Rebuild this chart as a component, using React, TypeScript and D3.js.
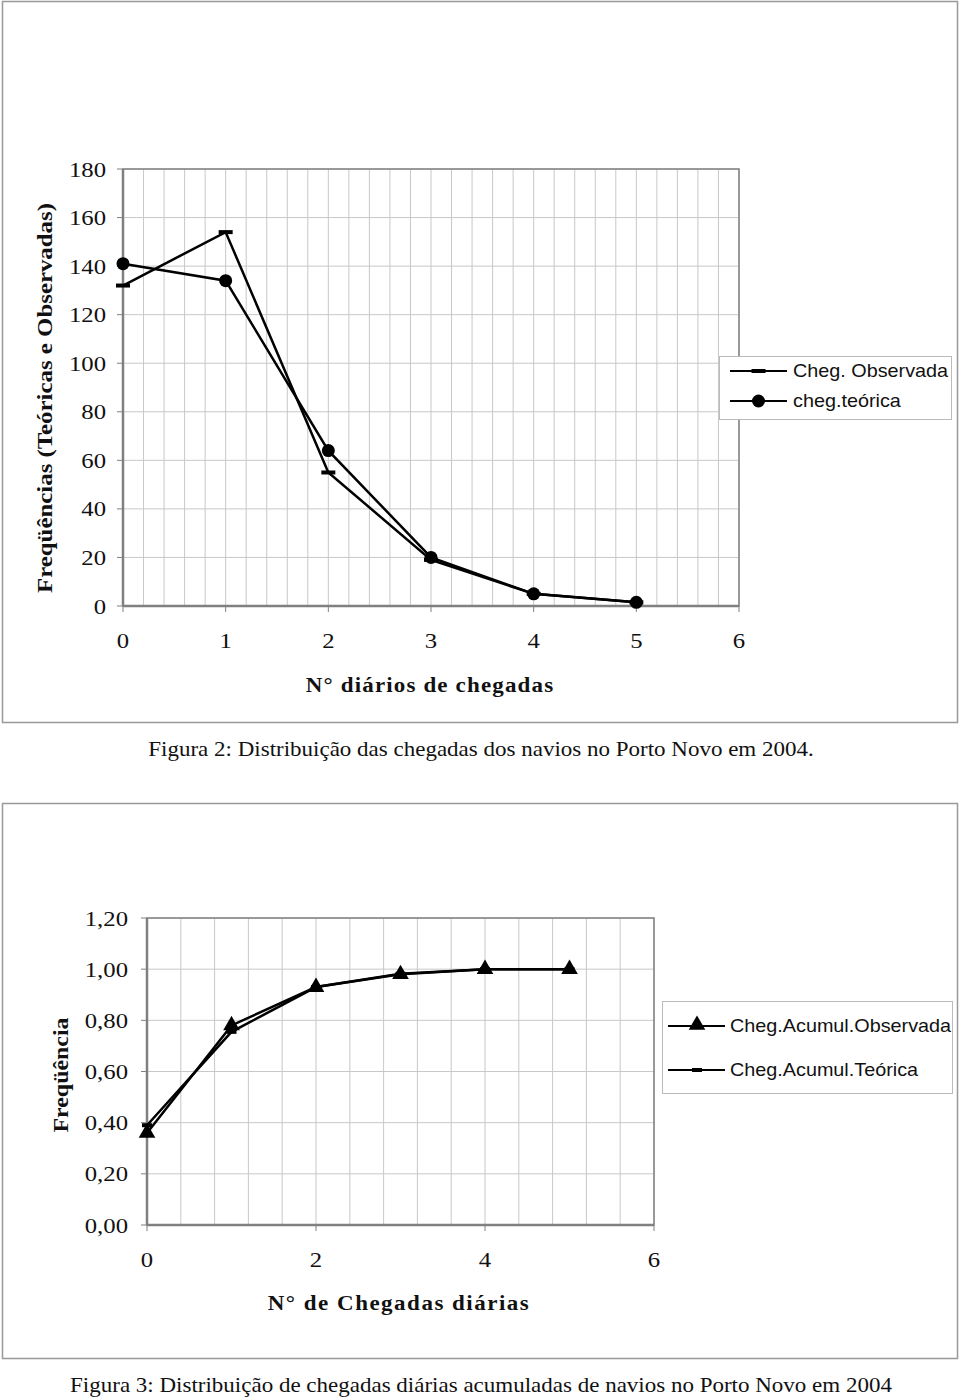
import React from "react";
import * as d3 from "d3";

// ---- Figure 2 data ----
const arrivals = [0, 1, 2, 3, 4, 5];
const observed = [132, 154, 55, 19, 5, 1.5];
const theoretical = [141, 134, 64, 20, 5, 1.5];
const fig2YTicks = [0, 20, 40, 60, 80, 100, 120, 140, 160, 180];
const fig2XTicks = [0, 1, 2, 3, 4, 5, 6];

// ---- Figure 3 data ----
const cumObserved = [0.36, 0.78, 0.93, 0.98, 1.0, 1.0];
const cumTheoretical = [0.39, 0.755, 0.93, 0.982, 1.0, 1.0];
const fig3YTicks = [0, 0.2, 0.4, 0.6, 0.8, 1.0, 1.2];
const fig3XTicks = [0, 2, 4, 6];

const SERIF = "'Liberation Serif', 'Times New Roman', serif";
const SANS = "'Liberation Sans', Arial, sans-serif";
const GRID = "#c8c8c8";
const AXIS = "#808080";
const SX = 1.15;

type STProps = {
  x: number;
  y: number;
  anchor?: "start" | "middle" | "end";
  size: number;
  family?: string;
  bold?: boolean;
  spacing?: number;
  sx?: number;
  dy?: string;
  children: React.ReactNode;
};

function SText({ x, y, anchor = "start", size, family = SERIF, bold, spacing, sx = SX, dy, children }: STProps) {
  return (
    <text
      transform={`translate(${x},${y}) scale(${sx},1)`}
      textAnchor={anchor}
      dy={dy}
      fontFamily={family}
      fontSize={size}
      fontWeight={bold ? "bold" : "normal"}
      letterSpacing={spacing}
      fill="#111"
    >
      {children}
    </text>
  );
}

function Figure2() {
  const x = d3.scaleLinear().domain([0, 6]).range([123, 739]);
  const y = d3.scaleLinear().domain([0, 180]).range([606, 169]);
  const vGrid = d3.range(31).map((i) => i * 0.2);
  const line = d3
    .line<number>()
    .x((_, i) => x(arrivals[i]))
    .y((d) => y(d));
  return (
    <g>
      <rect x={2.5} y={1.5} width={955} height={721} fill="#fff" stroke="#999" strokeWidth={1.5} />
      {vGrid.map((v, i) => (
        <line key={"v" + i} x1={x(v)} x2={x(v)} y1={y(0)} y2={y(180)} stroke={GRID} strokeWidth={1} />
      ))}
      {fig2YTicks.map((t) => (
        <line key={"h" + t} x1={x(0)} x2={x(6)} y1={y(t)} y2={y(t)} stroke={GRID} strokeWidth={1} />
      ))}
      <rect x={x(0)} y={y(180)} width={x(6) - x(0)} height={y(0) - y(180)} fill="none" stroke={AXIS} strokeWidth={1.5} />
      <line x1={x(0)} x2={x(0)} y1={y(0)} y2={y(180)} stroke={AXIS} strokeWidth={2.5} />
      <line x1={x(0)} x2={x(6)} y1={y(0)} y2={y(0)} stroke={AXIS} strokeWidth={2.5} />
      {fig2YTicks.map((t) => (
        <g key={"yt" + t}>
          <line x1={x(0) - 6} x2={x(0)} y1={y(t)} y2={y(t)} stroke={AXIS} strokeWidth={1} />
          <SText x={106} y={y(t)} dy="0.35em" anchor="end" size={21.5}>
            {t}
          </SText>
        </g>
      ))}
      {fig2XTicks.map((t) => (
        <g key={"xt" + t}>
          <line x1={x(t)} x2={x(t)} y1={y(0)} y2={y(0) + 6} stroke={AXIS} strokeWidth={1} />
          <SText x={x(t)} y={648} anchor="middle" size={21.5}>
            {t}
          </SText>
        </g>
      ))}
      <path d={line(observed) || ""} fill="none" stroke="#000" strokeWidth={2.5} />
      <path d={line(theoretical) || ""} fill="none" stroke="#000" strokeWidth={2.5} />
      {observed.map((v, i) => (
        <rect key={"o" + i} x={x(arrivals[i]) - 7} y={y(v) - 2} width={14} height={4} fill="#000" />
      ))}
      {theoretical.map((v, i) => (
        <circle key={"t" + i} cx={x(arrivals[i])} cy={y(v)} r={6.5} fill="#000" />
      ))}
      <SText x={430} y={692} anchor="middle" size={20} bold spacing={1}>
        N° diários de chegadas
      </SText>
      <text
        transform={`translate(52,398) rotate(-90)`}
        textAnchor="middle"
        fontFamily={SERIF}
        fontSize={22}
        fontWeight="bold"
        textLength={390}
        lengthAdjust="spacingAndGlyphs"
        fill="#111"
      >
        Freqüências (Teóricas e Observadas)
      </text>
      {/* legend */}
      <rect x={719.5} y={356.5} width={232} height={63} fill="#fff" stroke="#bbb" strokeWidth={1} />
      <line x1={730} x2={787} y1={371} y2={371} stroke="#000" strokeWidth={2} />
      <rect x={751.5} y={369} width={14} height={4} fill="#000" />
      <SText x={793} y={371} dy="0.35em" family={SANS} size={18} sx={1.1}>
        Cheg. Observada
      </SText>
      <line x1={730} x2={787} y1={401} y2={401} stroke="#000" strokeWidth={2} />
      <circle cx={758.5} cy={401} r={6.5} fill="#000" />
      <SText x={793} y={401} dy="0.35em" family={SANS} size={18} sx={1.1}>
        cheg.teórica
      </SText>
      <SText x={481} y={756} anchor="middle" size={20}>
        Figura 2: Distribuição das chegadas dos navios no Porto Novo em 2004.
      </SText>
    </g>
  );
}

function Figure3() {
  const x = d3.scaleLinear().domain([0, 6]).range([147, 654]);
  const y = d3.scaleLinear().domain([0, 1.2]).range([1225, 918]);
  const vGrid = d3.range(16).map((i) => i * 0.4);
  const fmt = (v: number) => d3.format(".2f")(v).replace(".", ",");
  const line = d3
    .line<number>()
    .x((_, i) => x(arrivals[i]))
    .y((d) => y(d));
  const tri = d3.symbol().type(d3.symbolTriangle).size(120);
  return (
    <g>
      <rect x={2.5} y={803.5} width={955} height={555} fill="#fff" stroke="#999" strokeWidth={1.5} />
      {vGrid.map((v, i) => (
        <line key={"v" + i} x1={x(v)} x2={x(v)} y1={y(0)} y2={y(1.2)} stroke={GRID} strokeWidth={1} />
      ))}
      {fig3YTicks.map((t, i) => (
        <line key={"h" + i} x1={x(0)} x2={x(6)} y1={y(t)} y2={y(t)} stroke={GRID} strokeWidth={1} />
      ))}
      <rect x={x(0)} y={y(1.2)} width={x(6) - x(0)} height={y(0) - y(1.2)} fill="none" stroke={AXIS} strokeWidth={1.5} />
      <line x1={x(0)} x2={x(0)} y1={y(0)} y2={y(1.2)} stroke={AXIS} strokeWidth={2.5} />
      <line x1={x(0)} x2={x(6)} y1={y(0)} y2={y(0)} stroke={AXIS} strokeWidth={2.5} />
      {fig3YTicks.map((t, i) => (
        <g key={"yt" + i}>
          <line x1={x(0) - 6} x2={x(0)} y1={y(t)} y2={y(t)} stroke={AXIS} strokeWidth={1} />
          <SText x={128} y={y(t)} dy="0.35em" anchor="end" size={21.5}>
            {fmt(t)}
          </SText>
        </g>
      ))}
      {fig3XTicks.map((t) => (
        <g key={"xt" + t}>
          <line x1={x(t)} x2={x(t)} y1={y(0)} y2={y(0) + 6} stroke={AXIS} strokeWidth={1} />
          <SText x={x(t)} y={1267} anchor="middle" size={21.5}>
            {t}
          </SText>
        </g>
      ))}
      <path d={line(cumTheoretical) || ""} fill="none" stroke="#000" strokeWidth={2.5} />
      <path d={line(cumObserved) || ""} fill="none" stroke="#000" strokeWidth={2.5} />
      {cumTheoretical.map((v, i) => (
        <rect key={"t" + i} x={x(arrivals[i]) - 5} y={y(v) - 2} width={10} height={4} fill="#000" />
      ))}
      {cumObserved.map((v, i) => (
        <path key={"o" + i} d={tri() || ""} transform={`translate(${x(arrivals[i])},${y(v)})`} fill="#000" />
      ))}
      <SText x={399} y={1310} anchor="middle" size={20} bold spacing={1.3}>
        N° de Chegadas diárias
      </SText>
      <text
        transform={`translate(68,1075) rotate(-90)`}
        textAnchor="middle"
        fontFamily={SERIF}
        fontSize={22}
        fontWeight="bold"
        textLength={115}
        lengthAdjust="spacingAndGlyphs"
        fill="#111"
      >
        Freqüência
      </text>
      {/* legend */}
      <rect x={662.5} y={1001.5} width={290} height={92} fill="#fff" stroke="#bbb" strokeWidth={1} />
      <line x1={668} x2={725} y1={1026} y2={1026} stroke="#000" strokeWidth={2} />
      <path d={tri() || ""} transform="translate(697,1025)" fill="#000" />
      <SText x={730} y={1026} dy="0.35em" family={SANS} size={18} sx={1.1}>
        Cheg.Acumul.Observada
      </SText>
      <line x1={668} x2={725} y1={1070} y2={1070} stroke="#000" strokeWidth={2} />
      <rect x={692} y={1068} width={10} height={4} fill="#000" />
      <SText x={730} y={1070} dy="0.35em" family={SANS} size={18} sx={1.1}>
        Cheg.Acumul.Teórica
      </SText>
      <SText x={481} y={1392} anchor="middle" size={20}>
        Figura 3: Distribuição de chegadas diárias acumuladas de navios no Porto Novo em 2004
      </SText>
    </g>
  );
}

export default function App() {
  return (
    <svg
      width={960}
      height={1400}
      viewBox="0 0 960 1400"
      style={{ position: "absolute", left: 0, top: 0, background: "#fff" }}
    >
      <rect x={0} y={0} width={960} height={1400} fill="#fff" />
      <Figure2 />
      <Figure3 />
    </svg>
  );
}
